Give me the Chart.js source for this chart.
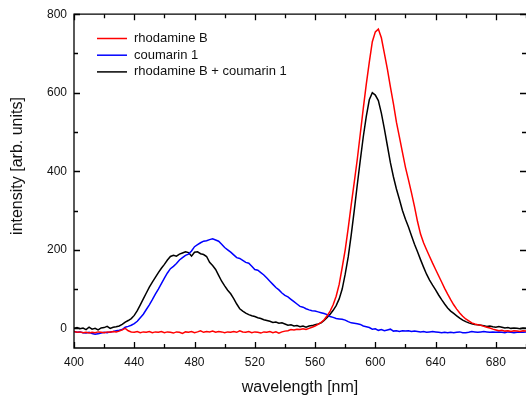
<!DOCTYPE html>
<html>
<head>
<meta charset="utf-8">
<script src="https://cdn.jsdelivr.net/npm/chart.js@4/dist/chart.umd.min.js"></script>
<style>
  body { margin: 0; background: #fff; }
  canvas { display: block; }
</style>
</head>
<body>
<canvas id="chart" width="526" height="401"></canvas>
<script>
// wavelength grid (nm), 2 nm steps
const wavelengths = [
  400,402,404,406,408,410,412,414,416,418,420,422,424,426,428,430,432,434,436,438,
  440,442,444,446,448,450,452,454,456,458,460,462,464,466,468,470,472,474,476,478,
  480,482,484,486,488,490,492,494,496,498,500,502,504,506,508,510,512,514,516,518,
  520,522,524,526,528,530,532,534,536,538,540,542,544,546,548,550,552,554,556,558,
  560,562,564,566,568,570,572,574,576,578,580,582,584,586,588,590,592,594,596,598,
  600,602,604,606,608,610,612,614,616,618,620,622,624,626,628,630,632,634,636,638,
  640,642,644,646,648,650,652,654,656,658,660,662,664,666,668,670,672,674,676,678,
  680,682,684,686,688,690,692,694,696,698,700
];

const rhodamineB = [
  -8,-10,-9,-11,-10,-12,-10,-11,-9,-10,
  -11,-9,-10,-8,-9,-7,-4,0,-6,-9,
  -10,-8,-11,-9,-10,-8,-11,-9,-10,-8,
  -11,-9,-10,-12,-9,-10,-13,-9,-10,-8,
  -11,-9,-6,-10,-8,-9,-7,-10,-8,-9,
  -11,-9,-10,-8,-10,-6,-9,-10,-8,-11,
  -9,-10,-12,-9,-10,-8,-11,-9,-12,-9,
  -7,-6,-3,-4,-2,-3,-1,-3,0,3,
  6,10,15,22,32,44,60,82,112,155,
  200,255,315,372,430,495,560,622,678,730,
  755,762,740,700,660,615,572,525,487,448,
  410,378,345,310,272,240,218,200,183,166,
  150,134,118,102,87,73,60,49,39,31,
  24,19,14,11,9,8,5,3,1,-2,
  -4,-6,-5,-7,-6,-8,-6,-7,-8,-6,
  -7
];

const coumarin1 = [
  -8,-10,-9,-11,-12,-10,-13,-15,-14,-12,
  -10,-11,-9,-8,-6,-5,-3,3,5,8,
  12,18,27,36,48,60,73,87,100,114,
  128,141,152,158,165,174,180,186,189,197,
  208,213,218,222,223,226,228,225,222,214,
  206,200,194,187,180,178,173,168,166,158,
  150,148,142,136,128,120,112,104,98,90,
  84,80,74,68,62,56,54,50,47,45,
  44,42,40,38,35,30,28,25,24,23,
  21,17,14,13,12,10,6,4,2,-2,
  -1,-5,-3,-6,-4,-2,-7,-6,-8,-6,
  -7,-6,-8,-7,-8,-9,-8,-10,-9,-8,
  -9,-10,-11,-10,-11,-10,-11,-10,-9,-11,
  -11,-10,-8,-9,-10,-9,-8,-9,-10,-9,
  -10,-9,-10,-11,-9,-10,-11,-10,-9,-10,
  -9
];

const mixture = [
  0,2,-1,1,-3,3,-2,0,-4,1,
  2,5,0,3,4,6,10,16,20,25,
  33,45,60,75,90,105,118,130,142,153,
  163,174,183,186,184,189,192,195,193,184,
  194,195,190,188,183,168,160,150,135,120,
  108,97,88,76,62,50,44,39,35,32,
  30,27,25,22,20,18,15,16,13,14,
  11,8,9,6,7,4,6,3,6,7,
  9,11,14,20,28,36,46,58,75,100,
  138,182,238,300,365,428,488,540,582,600,
  594,580,548,508,465,422,386,355,328,300,
  278,258,236,214,195,175,156,138,123,110,
  98,85,73,62,52,44,38,32,26,21,
  17,14,12,10,9,8,7,5,6,4,
  3,5,3,1,2,0,1,0,-1,1,
  0
];

const seriesNames = ["rhodamine B", "coumarin 1", "rhodamine B + coumarin 1"];
const seriesColors = ["#ff0000", "#0000ff", "#000000"];

const xTicks = [400, 440, 480, 520, 560, 600, 640, 680];
const yTicks = [0, 200, 400, 600, 800];

function points(values) {
    return wavelengths.map((w, i) => ({ x: w, y: values[i] }));
}

// inward ticks on all four sides plus the frame (right edge sits off-canvas)
const frameTicks = {
    id: "frameTicks",
    afterDatasetsDraw(chart) {
        const { ctx, chartArea: a, scales: { x, y } } = chart;
        ctx.save();
        ctx.strokeStyle = "#000";
        ctx.lineWidth = 1.3;
        ctx.beginPath();
        ctx.moveTo(a.right + 2, a.top);
        ctx.lineTo(a.left, a.top);
        ctx.lineTo(a.left, a.bottom);
        ctx.lineTo(a.right + 2, a.bottom);
        ctx.stroke();
        ctx.beginPath();
        for (let v = 400; v <= 700; v += 20) {
            const p = Math.round(x.getPixelForValue(v)) + 0.5;
            const len = v % 40 === 0 ? 6 : 4;
            ctx.moveTo(p, a.bottom); ctx.lineTo(p, a.bottom - len);
            ctx.moveTo(p, a.top); ctx.lineTo(p, a.top + len);
        }
        for (let v = 0; v <= 800; v += 100) {
            const p = Math.round(y.getPixelForValue(v)) + 0.5;
            const len = v % 200 === 0 ? 6 : 4;
            ctx.moveTo(a.left, p); ctx.lineTo(a.left + len, p);
            ctx.moveTo(a.right, p); ctx.lineTo(a.right - len, p);
        }
        ctx.stroke();
        ctx.restore();
    },
    afterDraw(chart) {
        const ctx = chart.ctx;
        ctx.save();
        // y axis title
        ctx.fillStyle = "#111";
        ctx.font = "16px 'Liberation Sans', Arial, sans-serif";
        ctx.textAlign = "center";
        ctx.textBaseline = "middle";
        ctx.translate(18, 166);
        ctx.rotate(-Math.PI / 2);
        ctx.fillText("intensity [arb. units]", 0, 0);
        ctx.restore();

        // legend
        ctx.save();
        ctx.font = "13px 'Liberation Sans', Arial, sans-serif";
        ctx.textBaseline = "middle";
        ctx.lineWidth = 1.5;
        seriesNames.forEach((name, i) => {
            const yy = 38.5 + i * 16.7;
            ctx.strokeStyle = seriesColors[i];
            ctx.beginPath();
            ctx.moveTo(97, yy); ctx.lineTo(127, yy);
            ctx.stroke();
            ctx.fillStyle = "#111";
            ctx.fillText(name, 134, yy);
        });
        ctx.restore();
    }
};

const ctx = document.getElementById("chart").getContext("2d");

new Chart(ctx, {
    type: "line",
    data: {
        datasets: [rhodamineB, coumarin1, mixture].map((vals, i) => ({
            label: seriesNames[i],
            data: points(vals),
            borderColor: seriesColors[i],
            borderWidth: 1.5,
            pointRadius: 0,
            tension: 0,
            fill: false
        }))
    },
    options: {
        responsive: false,
        animation: false,
        layout: { padding: { top: 12, right: 0, left: 0, bottom: 0 } },
        plugins: {
            legend: { display: false },
            tooltip: { enabled: false }
        },
        scales: {
            x: {
                type: "linear",
                min: 400,
                max: 700,
                afterBuildTicks: s => { s.ticks = xTicks.map(v => ({ value: v })); },
                afterFit: s => { s.height = 53; },
                grid: { display: false, drawTicks: false },
                border: { display: false },
                ticks: {
                    padding: 7,
                    color: "#111",
                    font: { family: "'Liberation Sans', Arial, sans-serif", size: 12 },
                    maxRotation: 0
                },
                title: {
                    display: true,
                    text: "wavelength [nm]",
                    color: "#111",
                    font: { family: "'Liberation Sans', Arial, sans-serif", size: 16 },
                    padding: { top: 0, bottom: 4 }
                }
            },
            y: {
                min: -50,
                max: 800,
                afterBuildTicks: s => { s.ticks = yTicks.map(v => ({ value: v })); },
                afterFit: s => { s.width = 74; },
                grid: { display: false, drawTicks: false },
                border: { display: false },
                ticks: {
                    padding: 7,
                    color: "#111",
                    font: { family: "'Liberation Sans', Arial, sans-serif", size: 12 }
                }
            }
        }
    },
    plugins: [frameTicks]
});
</script>
</body>
</html>
